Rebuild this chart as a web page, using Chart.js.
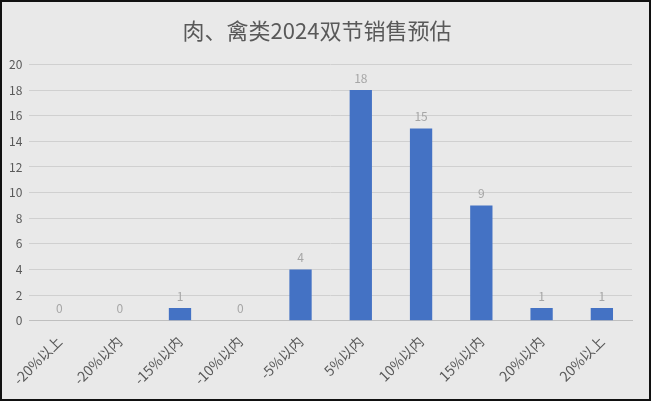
<!DOCTYPE html>
<html>
<head>
<meta charset="utf-8">
<script src="https://cdn.jsdelivr.net/npm/chart.js@4.4.0/dist/chart.umd.min.js"></script>
<style>
  html, body { margin: 0; padding: 0; background: #fff; }
  #wrap { width: 651px; height: 401px; box-sizing: border-box; border: 2px solid #111; background: #e9e9e9; }
</style>
</head>
<body>
<div id="wrap"><canvas id="salesChart" width="647" height="397"></canvas></div>
<script>
const categories = ['-20%以上', '-20%以内', '-15%以内', '-10%以内', '-5%以内', '5%以内', '10%以内', '15%以内', '20%以内', '20%以上'];
const counts = [0, 0, 1, 0, 4, 18, 15, 9, 1, 1];
const yTicks = [0, 2, 4, 6, 8, 10, 12, 14, 16, 18, 20];

const fontFamily = "'Microsoft YaHei', 'Noto Sans CJK SC', sans-serif";

// draw the value above each bar
const valueLabels = {
  id: 'valueLabels',
  afterDatasetsDraw(chart) {
    const c = chart.ctx;
    const meta = chart.getDatasetMeta(0);
    c.save();
    c.fillStyle = '#a6a6a6';
    c.font = "12px " + fontFamily;
    c.textAlign = 'center';
    c.textBaseline = 'bottom';
    meta.data.forEach((bar, i) => {
      c.fillText(counts[i], bar.x, bar.y - 6);
    });
    c.restore();
  }
};

const ctx = document.getElementById('salesChart');

new Chart(ctx, {
  type: 'bar',
  data: {
    labels: categories,
    datasets: [{
      data: counts,
      backgroundColor: '#4472c4',
      barPercentage: 0.37,
      categoryPercentage: 1
    }]
  },
  options: {
    responsive: false,
    animation: false,
    layout: { padding: { left: 0, right: 17, top: 2, bottom: 7 } },
    scales: {
      y: {
        min: 0,
        max: 20,
        afterBuildTicks(axis) { axis.ticks = yTicks.map(v => ({ value: v })); },
        grid: { color: '#d0d0d0', drawTicks: false },
        border: { display: false },
        ticks: { color: '#595959', font: { size: 12, family: fontFamily }, padding: 7 }
      },
      x: {
        grid: { display: false },
        border: { color: '#bfbfbf' },
        ticks: { color: '#595959', font: { size: 14, family: fontFamily }, minRotation: 45, maxRotation: 45, padding: 4 }
      }
    },
    plugins: {
      legend: { display: false },
      tooltip: { enabled: false },
      title: {
        display: true,
        text: '肉、禽类2024双节销售预估',
        color: '#595959',
        font: { size: 22, weight: 'normal', family: fontFamily },
        padding: { top: 13, bottom: 21 }
      }
    }
  },
  plugins: [valueLabels]
});
</script>
</body>
</html>
